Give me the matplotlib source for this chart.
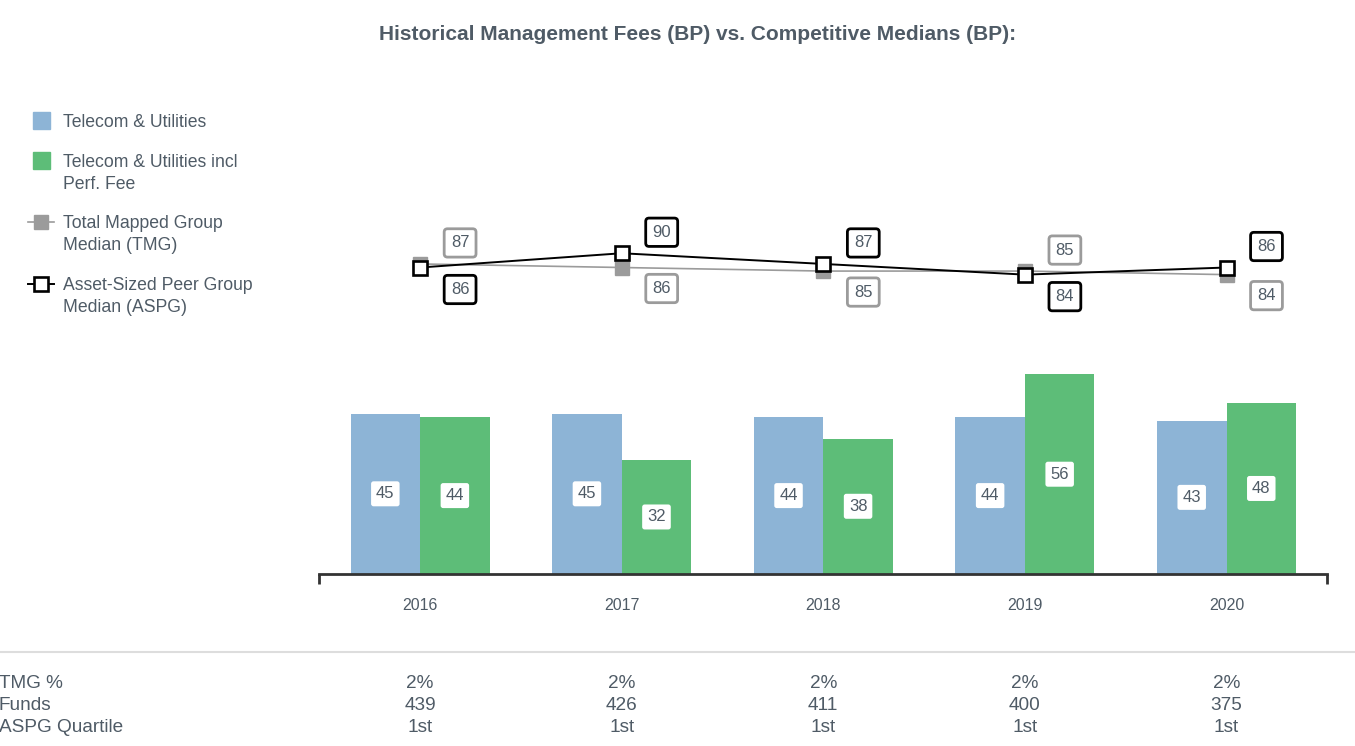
import numpy as np
import matplotlib.pyplot as plt
from matplotlib.patches import Rectangle
from matplotlib.lines import Line2D
import matplotlib.transforms as mtransforms

plt.rcParams['font.family'] = ['Liberation Sans', 'DejaVu Sans']

# ---- data ----
years = ["2016", "2017", "2018", "2019", "2020"]
telecom = [45, 45, 44, 44, 43]
telecom_perf = [44, 32, 38, 56, 48]
tmg_median = [87, 86, 85, 85, 84]
aspg_median = [86, 90, 87, 84, 86]
tmg_pct = ["2%", "2%", "2%", "2%", "2%"]
funds = ["439", "426", "411", "400", "375"]
aspg_quartile = ["1st", "1st", "1st", "1st", "1st"]

text_col = "#4f5b66"
blue = "#8db4d6"
green = "#5dbd78"
grey = "#9b9b9b"

fig = plt.figure(figsize=(13.55, 7.46), dpi=100)
ax = fig.add_axes([319.3 / 1355, 1 - 574 / 746, 1008 / 1355, 474 / 746])

x = np.arange(len(years))
w = 0.345
b1 = ax.bar(x - w / 2, telecom, w, color=blue, zorder=2)
b2 = ax.bar(x + w / 2, telecom_perf, w, color=green, zorder=2)

# value boxes in the middle of the bars
for bars, vals in ((b1, telecom), (b2, telecom_perf)):
    for r, v in zip(bars, vals):
        ax.text(r.get_x() + r.get_width() / 2, v / 2, str(v), ha='center', va='center',
                fontsize=12, color=text_col, zorder=5,
                bbox=dict(boxstyle='round,pad=0.3,rounding_size=0.15', fc='white', ec='none'))

# median lines
ax.plot(x, tmg_median, color=grey, lw=1.2, marker='s', ms=10.5, mfc=grey, mec=grey, zorder=3)
ax.plot(x, aspg_median, color='black', lw=1.4, marker='s', ms=10, mfc='white', mec='black',
        mew=1.9, zorder=4)

# labels: higher value above, lower below, shifted right
for i in range(len(years)):
    t, a = tmg_median[i], aspg_median[i]
    if t > a:
        dt, da = 21, -22
    else:
        dt, da = -21, 21
    for val, dy, ec in ((t, dt, grey), (a, da, 'black')):
        ax.annotate(str(val), (x[i], val), xytext=(40, dy), textcoords='offset pixels',
                    ha='center', va='center', fontsize=12, color=text_col, zorder=6,
                    bbox=dict(boxstyle='round,pad=0.4,rounding_size=0.2', fc='white',
                              ec=ec, lw=2))

ax.set_xlim(-0.5, len(years) - 0.5)
ax.set_ylim(0, 133)
ax.set_xticks(x)
ax.set_xticklabels(years, fontsize=11.5, color=text_col)
ax.tick_params(axis='x', length=0, pad=17)
ax.set_xticks([-0.5, len(years) - 0.5], minor=True)
ax.tick_params(axis='x', which='minor', length=7, width=2, color='#333333')
ax.set_yticks([])
for s in ['top', 'right', 'left']:
    ax.spines[s].set_visible(False)
ax.spines['bottom'].set_color('#333333')
ax.spines['bottom'].set_linewidth(2)

fig.text(0.515, 1 - 34 / 746, "Historical Management Fees (BP) vs. Competitive Medians (BP):",
         ha='center', va='center', fontsize=15, fontweight='bold', color=text_col)

# legend drawn by hand
def fy(py):
    return 1 - py / 746

def fx(px):
    return px / 1355

fig.patches.append(Rectangle((fx(33), fy(129)), fx(17), 17 / 746, color=blue,
                             transform=fig.transFigure))
fig.patches.append(Rectangle((fx(33), fy(169)), fx(17), 17 / 746, color=green,
                             transform=fig.transFigure))
fig.lines.append(Line2D([fx(28), fx(54)], [fy(222), fy(222)], color=grey, lw=1.2,
                        transform=fig.transFigure))
fig.lines.append(Line2D([fx(41)], [fy(222)], marker='s', ms=10.5, color=grey,
                        transform=fig.transFigure))
fig.lines.append(Line2D([fx(28), fx(54)], [fy(284), fy(284)], color='black', lw=1.4,
                        transform=fig.transFigure))
fig.lines.append(Line2D([fx(41)], [fy(284)], marker='s', ms=10, mfc='white', mec='black',
                        mew=1.9, transform=fig.transFigure))
legend_items = [("Telecom & Utilities", 121), ("Telecom & Utilities incl\nPerf. Fee", 161),
                ("Total Mapped Group\nMedian (TMG)", 222), ("Asset-Sized Peer Group\nMedian (ASPG)", 284)]
for lab, py in legend_items:
    fig.text(fx(63), fy(py) + 7 / 746, lab, ha='left', va='top', fontsize=12.7,
             color=text_col, linespacing=1.35)

# separator and table
fig.lines.append(Line2D([0, 1], [fy(652), fy(652)], color='#dddddd', lw=1.5,
                        transform=fig.transFigure))
trans = mtransforms.blended_transform_factory(ax.transData, fig.transFigure)
rows = [("TMG %", tmg_pct, 683), ("Funds", funds, 705), ("ASPG Quartile", aspg_quartile, 728)]
for name, vals, py in rows:
    fig.text(-0.001, fy(py), name, ha='left', va='center', fontsize=13.7, color=text_col)
    for i, v in enumerate(vals):
        ax.text(x[i], fy(py), v, transform=trans, ha='center', va='center', fontsize=13.7,
                color=text_col, clip_on=False)

fig.savefig("out.png", dpi=100)
